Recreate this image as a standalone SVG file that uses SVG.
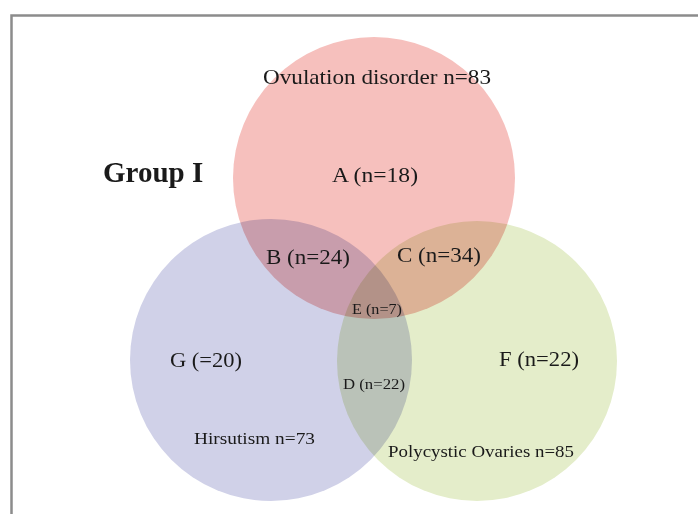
<svg xmlns="http://www.w3.org/2000/svg" width="698" height="514" viewBox="0 0 698 514">
<style>
.c{mix-blend-mode:multiply}
.t{font-family:"Liberation Serif","Times New Roman",serif;fill:#1a1a1a}
.m{font-size:21px}
.s{font-size:14.5px}
.h{font-size:17.5px}
</style>
<rect width="698" height="514" fill="#fff"/>
<rect x="11.5" y="15.5" width="700" height="520" fill="none" stroke="#8c8c8c" stroke-width="2.5"/>
<g id="sets">
<g id="ovulation"><circle class="c" cx="374" cy="178" r="141" fill="#f6c0bd"/></g>
<g id="hirsutism"><circle class="c" cx="271" cy="360" r="141" fill="#d0d1e8"/></g>
<g id="pco"><circle class="c" cx="477" cy="361" r="140" fill="#e4edca"/></g>
</g>
<g id="labels">
<text class="t m" x="263" y="84" textLength="228" lengthAdjust="spacingAndGlyphs">Ovulation disorder n=83</text>
<text class="t" x="103" y="182" font-size="29" font-weight="bold">Group I</text>
<text class="t m" x="332" y="182" textLength="86" lengthAdjust="spacingAndGlyphs">A (n=18)</text>
<text class="t m" x="266" y="264" textLength="84" lengthAdjust="spacingAndGlyphs">B (n=24)</text>
<text class="t m" x="397" y="262" textLength="84" lengthAdjust="spacingAndGlyphs">C (n=34)</text>
<text class="t s" x="352" y="314" textLength="50" lengthAdjust="spacingAndGlyphs">E (n=7)</text>
<text class="t s" x="343" y="389" textLength="62" lengthAdjust="spacingAndGlyphs">D (n=22)</text>
<text class="t m" x="170" y="367" textLength="72" lengthAdjust="spacingAndGlyphs">G (=20)</text>
<text class="t m" x="499" y="366" textLength="80" lengthAdjust="spacingAndGlyphs">F (n=22)</text>
<text class="t h" x="194" y="444" textLength="121" lengthAdjust="spacingAndGlyphs">Hirsutism n=73</text>
<text class="t h" x="388" y="457" textLength="186" lengthAdjust="spacingAndGlyphs">Polycystic Ovaries n=85</text>
</g>
</svg>
